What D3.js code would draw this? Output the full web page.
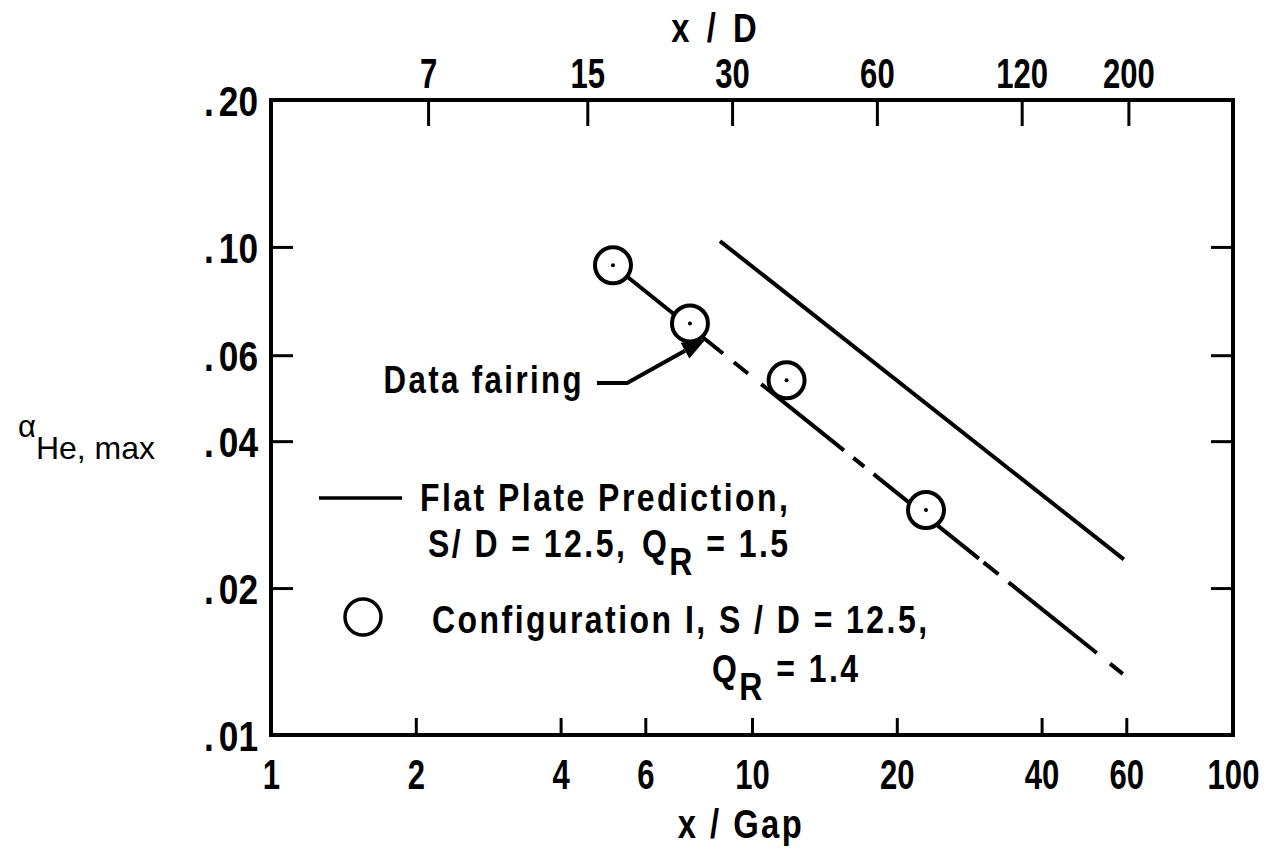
<!DOCTYPE html>
<html>
<head>
<meta charset="utf-8">
<script src="https://cdn.jsdelivr.net/npm/d3@7"></script>
<style>
  html, body { margin: 0; padding: 0; background: #fff; }
  svg { display: block; }
  .lbl { font-family: "Liberation Sans", Arial, sans-serif; font-weight: bold; fill: #000; }
</style>
</head>
<body>
<svg id="chart" width="1272" height="853"></svg>
<script>
// ---------- data ----------
const xGapTicks = [1, 2, 4, 6, 10, 20, 40, 60, 100];
const xGapTickLabels = ["1", "2", "4", "6", "10", "20", "40", "60", "100"];
const xDTicks = [7, 15, 30, 60, 120, 200];
const xDTickLabels = ["7", "15", "30", "60", "120", "200"];
const xDPerGap = 3.3;               // x/D = 3.3 * x/Gap (top axis)
const yTicks = [0.01, 0.02, 0.04, 0.06, 0.10, 0.20];
const yTickLabels = [".01", ".02", ".04", ".06", ".10", ".20"];

// Configuration I, S/D = 12.5, QR = 1.4 (circles)
const configX = [5.14, 7.43, 11.8, 23.0];
const configY = [0.0917, 0.0697, 0.0533, 0.0289];

// Flat plate prediction, S/D = 12.5, QR = 1.5 (solid line)
const flatX = [8.58, 59.3];
const flatY = [0.1028, 0.0229];

// Data fairing (long-short dashed line)
const fairX = [5.14, 59.0];
const fairY = [0.0917, 0.01334];

// "Data fairing" annotation arrow (data units)
const arrowX = [4.76, 5.50, 8.02];
const arrowY = [0.0526, 0.0526, 0.0648];

// ---------- layout ----------
const svg = d3.select("#chart");
svg.append("rect").attr("width", 1272).attr("height", 853).attr("fill", "#fff");

const L = 271, R = 1233, T = 100, B = 735;
const x = d3.scaleLog().domain([1, 100]).range([L, R]);
const xTop = d3.scaleLog().domain([xDPerGap * 1, xDPerGap * 100]).range([L, R]);
const y = d3.scaleLog().domain([0.01, 0.2]).range([B, T]);

const SX = 0.82;    // horizontal condensing of the lettering
const DX = 0.74;    // condensing of the numerals
const DY = 0.84;    // condensing of the y-axis numerals

function stext(px, py, size, anchor, sx, ls) {
  return svg.append("text").attr("class", "lbl")
    .attr("transform", `translate(${px},${py}) scale(${sx},1)`)
    .attr("font-size", size).attr("text-anchor", anchor || "start")
    .attr("letter-spacing", ls || 0);
}

// frame
svg.append("rect").attr("x", L).attr("y", T).attr("width", R - L).attr("height", B - T)
  .attr("fill", "none").attr("stroke", "#000").attr("stroke-width", 4);

// bottom axis (inner ticks)
const gB = svg.append("g").attr("transform", `translate(0,${B})`)
  .call(d3.axisBottom(x).tickValues(xGapTicks).tickSizeInner(-17).tickSizeOuter(0)
    .tickFormat((d, i) => xGapTickLabels[i]));
gB.select(".domain").remove();
gB.selectAll(".tick line").attr("stroke", "#000").attr("stroke-width", 3);
gB.selectAll(".tick text").attr("class", "lbl").attr("font-size", 42).attr("y", 54).attr("dy", 0)
  .attr("transform", `scale(${DX},1)`);

// top axis (x/D)
const gT = svg.append("g").attr("transform", `translate(0,${T})`)
  .call(d3.axisTop(xTop).tickValues(xDTicks).tickSizeInner(-26).tickSizeOuter(0)
    .tickFormat((d, i) => xDTickLabels[i]));
gT.select(".domain").remove();
gT.selectAll(".tick line").attr("stroke", "#000").attr("stroke-width", 3);
gT.selectAll(".tick text").attr("class", "lbl").attr("font-size", 42).attr("y", -12).attr("dy", 0)
  .attr("transform", `scale(${DX},1)`);

// left axis
const gL = svg.append("g").attr("transform", `translate(${L},0)`)
  .call(d3.axisLeft(y).tickValues(yTicks).tickSizeInner(-22).tickSizeOuter(0).tickFormat(""));
gL.select(".domain").remove();
gL.selectAll(".tick line").attr("stroke", "#000").attr("stroke-width", 3)
  .filter(d => d === 0.01 || d === 0.2).remove();
gL.selectAll(".tick").each(function (d) {
  const lab = yTickLabels[yTicks.indexOf(d)];
  const t = d3.select(this).append("text").attr("class", "lbl").attr("font-size", 42)
    .attr("text-anchor", "end").attr("x", -13 / DY).attr("dy", "0.36em")
    .attr("transform", `scale(${DY},1)`);
  t.append("tspan").text(lab.slice(0, 1));
  t.append("tspan").attr("dx", 6).text(lab.slice(1));
});

// right axis
const gR = svg.append("g").attr("transform", `translate(${R},0)`)
  .call(d3.axisRight(y).tickValues(yTicks.filter(v => v > 0.01 && v < 0.2)).tickSizeInner(-22).tickSizeOuter(0).tickFormat(""));
gR.select(".domain").remove();
gR.selectAll(".tick line").attr("stroke", "#000").attr("stroke-width", 3);

// axis titles
stext(716, 42, 40, "middle", SX, 5).text("x / D");
stext(741, 838, 40, "middle", SX, 3).text("x / Gap");
const yl = svg.append("text").attr("font-family", "Liberation Sans, Arial, sans-serif").attr("fill", "#000");
yl.append("tspan").attr("x", 18).attr("y", 437).attr("font-size", 31).text("α");
yl.append("tspan").attr("y", 459).attr("font-size", 32).text("He, max");

// lines
const line = d3.line().x(d => x(d[0])).y(d => y(d[1]));
svg.append("path").datum(flatX.map((v, i) => [v, flatY[i]])).attr("d", line)
  .attr("fill", "none").attr("stroke", "#000").attr("stroke-width", 4);
svg.append("path").datum(fairX.map((v, i) => [v, fairY[i]])).attr("d", line)
  .attr("fill", "none").attr("stroke", "#000").attr("stroke-width", 4)
  .attr("stroke-dasharray", "141,14,18,17,106,12,14,12,135,6,19,13,113,17,18,200");

// data circles
const pts = svg.append("g");
configX.forEach((v, i) => {
  pts.append("circle").attr("cx", x(v)).attr("cy", y(configY[i])).attr("r", 18)
    .attr("fill", "#fff").attr("stroke", "#000").attr("stroke-width", 4);
  pts.append("circle").attr("cx", x(v)).attr("cy", y(configY[i])).attr("r", 2).attr("fill", "#000");
});

// annotation arrow
const ap = arrowX.map((v, i) => [x(v), y(arrowY[i])]);
const tip = ap[2], prev = ap[1];
const ang = Math.atan2(tip[1] - prev[1], tip[0] - prev[0]);
const hl = 24, hw = 9;
const base = [tip[0] - hl * Math.cos(ang), tip[1] - hl * Math.sin(ang)];
svg.append("path").attr("d", d3.line()([ap[0], ap[1], base]))
  .attr("fill", "none").attr("stroke", "#000").attr("stroke-width", 4);
svg.append("path").attr("d", d3.line()([
  tip,
  [base[0] + hw * Math.sin(ang), base[1] - hw * Math.cos(ang)],
  [base[0] - hw * Math.sin(ang), base[1] + hw * Math.cos(ang)]
]) + "Z").attr("fill", "#000");
stext(ap[0][0] - 13, ap[0][1] + 10, 39, "end", 0.8, 3).text("Data fairing");

// legend
svg.append("line").attr("x1", 319).attr("x2", 402).attr("y1", 498).attr("y2", 498)
  .attr("stroke", "#000").attr("stroke-width", 3.5);
stext(420, 511, 39, "start", SX, 3).text("Flat Plate Prediction,");
const t2 = stext(428, 557, 39, "start", SX, 3);
t2.append("tspan").text("S/ D = 12.5,");
t2.append("tspan").attr("dx", 18).text("Q");
t2.append("tspan").attr("dy", 18).text("R");
t2.append("tspan").attr("dy", -18).text(" = 1.5");

svg.append("circle").attr("cx", 363).attr("cy", 617).attr("r", 18)
  .attr("fill", "#fff").attr("stroke", "#000").attr("stroke-width", 3.5);
stext(432, 633, 39, "start", SX, 3).text("Configuration I, S / D = 12.5,");
const t4 = stext(712, 682, 39, "start", SX, 3);
t4.append("tspan").text("Q");
t4.append("tspan").attr("dy", 18).text("R");
t4.append("tspan").attr("dy", -18).text(" = 1.4");
</script>
</body>
</html>
